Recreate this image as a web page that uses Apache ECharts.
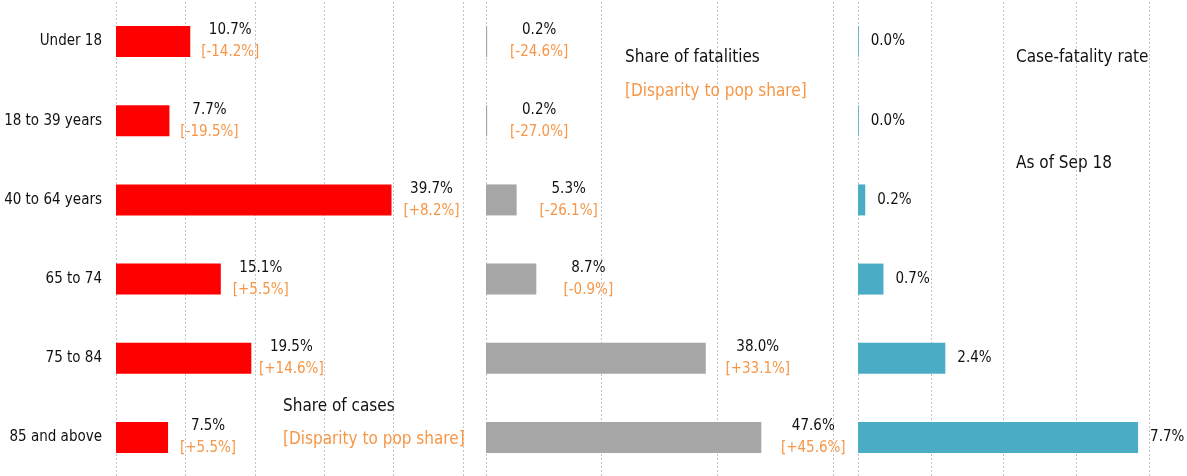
<!DOCTYPE html>
<html>
<head>
<meta charset="utf-8">
<script src="https://cdn.jsdelivr.net/npm/echarts@6/dist/echarts.min.js"></script>
<style>
  html, body { margin: 0; padding: 0; background: #fff; }
  #chart { width: 1187px; height: 476px; }
</style>
</head>
<body>
<div id="chart"></div>
<script>
// age groups
const ageGroups = ["Under 18", "18 to 39 years", "40 to 64 years", "65 to 74", "75 to 84", "85 and above"];
// share of cases (%) and disparity to population share
const caseShare = [10.7, 7.7, 39.7, 15.1, 19.5, 7.5];
const caseDisparity = ["-14.2%", "-19.5%", "+8.2%", "+5.5%", "+14.6%", "+5.5%"];
// share of fatalities (%) and disparity to population share
const deathShare = [0.2, 0.2, 5.3, 8.7, 38.0, 47.6];
const deathDisparity = ["-24.6%", "-27.0%", "-26.1%", "-0.9%", "+33.1%", "+45.6%"];
// case-fatality rate (%)
const fatalityRate = [0.02, 0.02, 0.2, 0.7, 2.4, 7.7];

const FONT = "'Liberation Sans Narrow', 'DejaVu Sans Condensed', sans-serif";
const ORANGE = "#f79646";

let myChart = echarts.init(document.getElementById("chart"));

function valueAxis(idx, max, interval) {
  return {
    type: "value", gridIndex: idx, min: 0, max: max, interval: interval,
    axisLine: {show: false}, axisTick: {show: false}, axisLabel: {show: false},
    splitLine: {show: true, lineStyle: {color: "#c3c3c3", type: [2, 2], width: 1}}
  };
}

function catAxis(idx, showLabels) {
  return {
    type: "category", gridIndex: idx, data: ageGroups, inverse: true,
    axisLine: {show: false}, axisTick: {show: false},
    axisLabel: {show: showLabels, margin: 14, color: "#111", fontSize: 15, fontFamily: FONT}
  };
}

// two-line label: value on top, disparity below
function twoLine(disp) {
  return function (p) {
    return "{v|" + p.value.toFixed(1) + "%}\n{d|[" + disp[p.dataIndex] + "]}";
  };
}
const richStyle = {
  v: {color: "#111", fontSize: 15, fontFamily: FONT, lineHeight: 22},
  d: {color: ORANGE, fontSize: 15, fontFamily: FONT, lineHeight: 22}
};

function title(text, left, top, color) {
  return {text: text, left: left, top: top, padding: 0,
    textStyle: {color: color, fontSize: 17, fontWeight: "normal", fontFamily: FONT}};
}

myChart.setOption({
  animation: false,
  title: [
    title("Share of cases", 283, 398, "#111"),
    title("[Disparity to pop share]", 283, 431, ORANGE),
    title("Share of fatalities", 625, 49, "#111"),
    title("[Disparity to pop share]", 625, 83, ORANGE),
    title("Case-fatality rate", 1016, 49, "#111"),
    title("As of Sep 18", 1016, 155, "#111")
  ],
  grid: [
    {left: 116, width: 347, top: 2, height: 475, outerBoundsMode: "none"},
    {left: 486, width: 347, top: 2, height: 475, outerBoundsMode: "none"},
    {left: 858, width: 291, top: 2, height: 475, outerBoundsMode: "none"}
  ],
  xAxis: [valueAxis(0, 50, 10), valueAxis(1, 60, 20), valueAxis(2, 8, 2)],
  yAxis: [catAxis(0, true), catAxis(1, false), catAxis(2, false)],
  series: [
    {
      name: "Share of cases", type: "bar", xAxisIndex: 0, yAxisIndex: 0,
      data: caseShare, barWidth: 31, itemStyle: {color: "#ff0000"},
      label: {show: true, position: "right", distance: 40, align: "center",
        formatter: twoLine(caseDisparity), rich: richStyle}
    },
    {
      name: "Share of fatalities", type: "bar", xAxisIndex: 1, yAxisIndex: 1,
      data: deathShare, barWidth: 31, itemStyle: {color: "#a6a6a6"},
      label: {show: true, position: "right", distance: 52, align: "center",
        formatter: twoLine(deathDisparity), rich: richStyle}
    },
    {
      name: "Case-fatality rate", type: "bar", xAxisIndex: 2, yAxisIndex: 2,
      data: fatalityRate, barWidth: 31, itemStyle: {color: "#4bacc6"},
      label: {show: true, position: "right", distance: 12, color: "#111",
        fontSize: 15, fontFamily: FONT,
        formatter: function (p) { return p.value.toFixed(1) + "%"; }}
    }
  ]
});
</script>
</body>
</html>
